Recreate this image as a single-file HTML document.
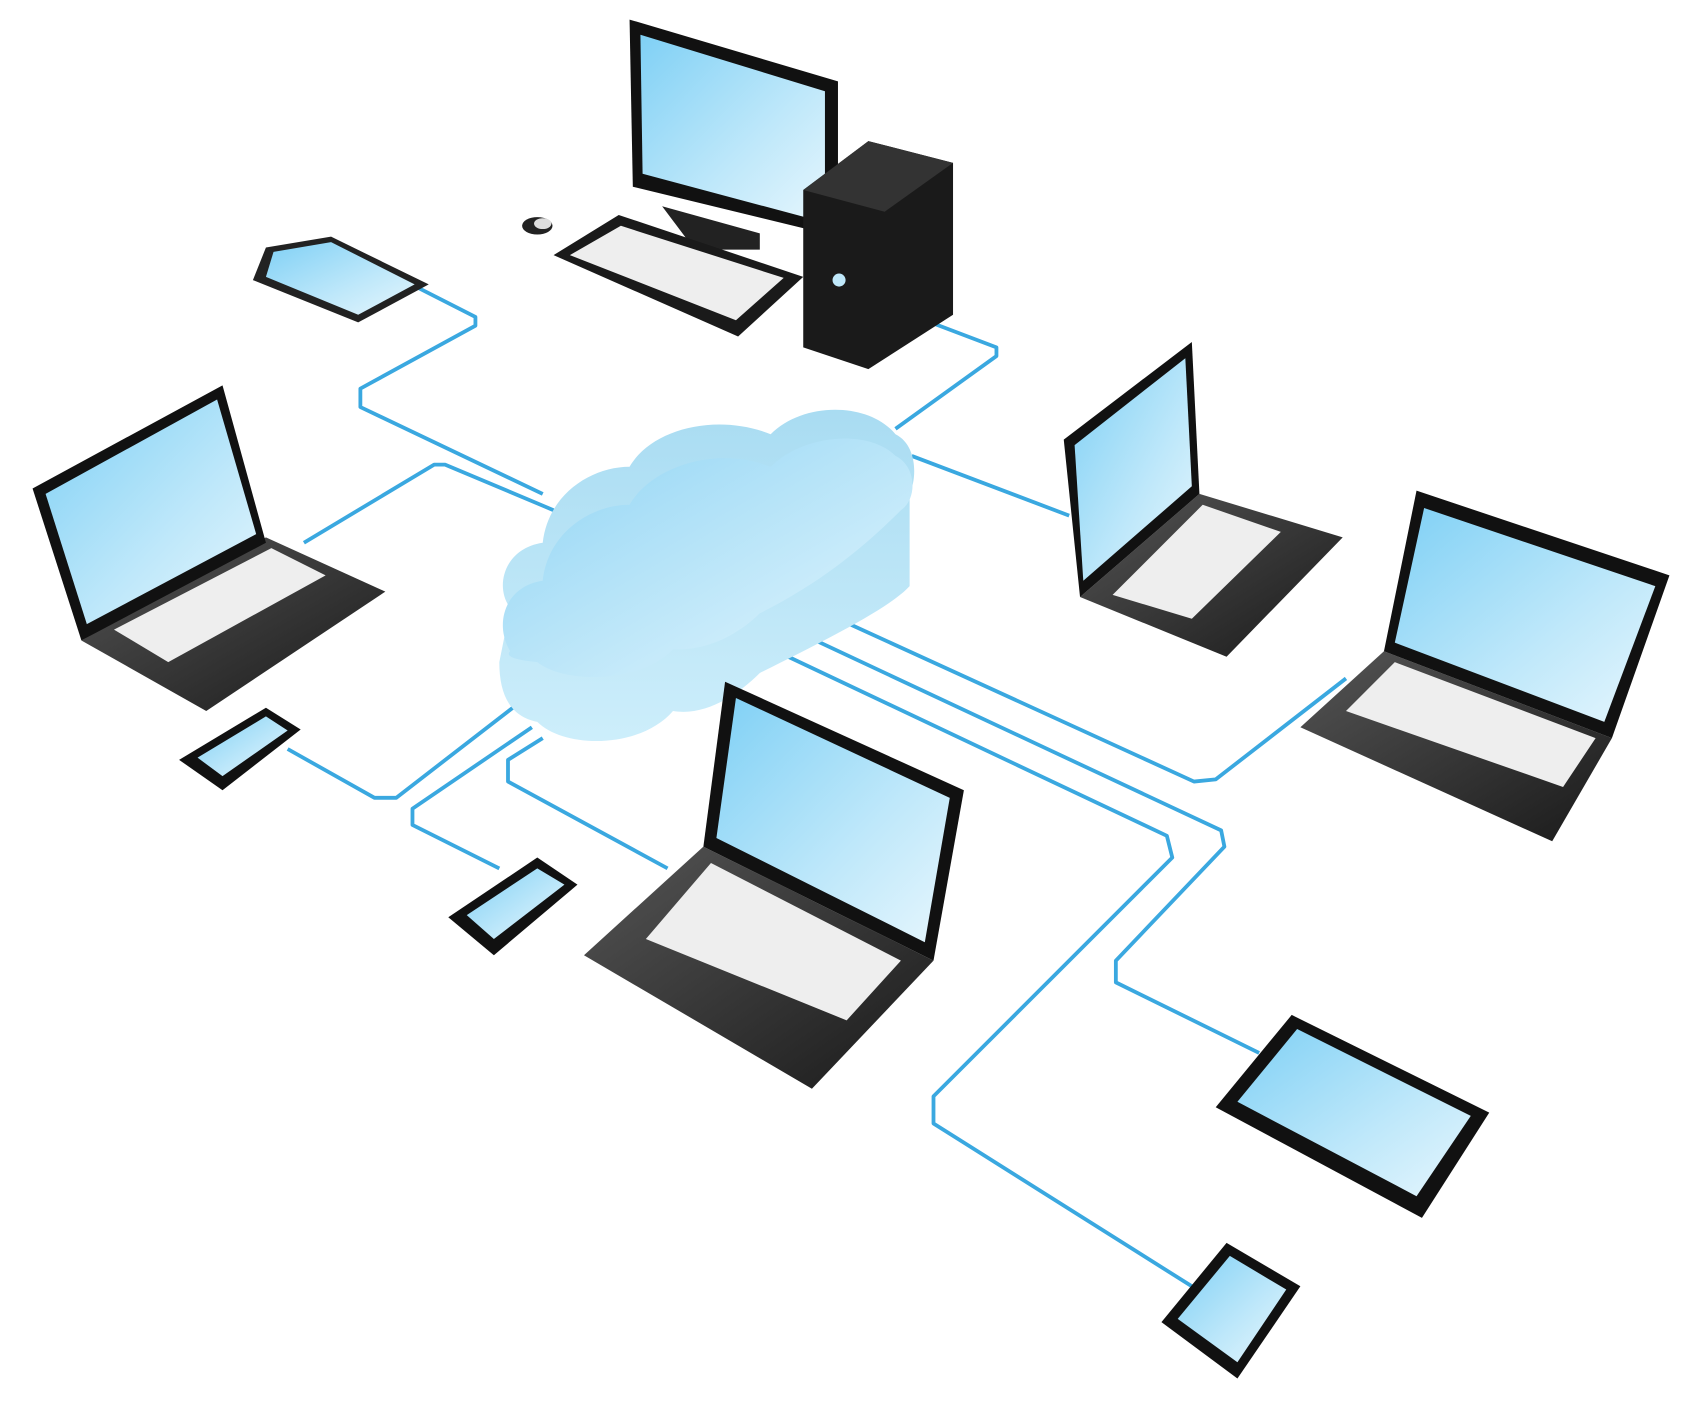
<!DOCTYPE html>
<html><head><meta charset="utf-8"><style>
html,body{margin:0;padding:0;background:#fff;}
svg{display:block;}
</style></head><body>
<svg width="1702" height="1422" viewBox="0 0 1568 1310" xmlns="http://www.w3.org/2000/svg">
<defs>
<linearGradient id="scr" x1="0" y1="0" x2="1" y2="1">
<stop offset="0" stop-color="#7fd0f5"/><stop offset="0.6" stop-color="#bfe8fa"/><stop offset="1" stop-color="#e6f6fd"/></linearGradient>
<linearGradient id="cl" x1="0" y1="0" x2="1" y2="1">
<stop offset="0" stop-color="#8fd4f4"/><stop offset="1" stop-color="#e4f6fd"/></linearGradient>
<linearGradient id="clside" x1="0" y1="0" x2="0" y2="1">
<stop offset="0" stop-color="#a9dcf2"/><stop offset="1" stop-color="#cdeefb"/></linearGradient>
<linearGradient id="base" x1="0" y1="0" x2="1" y2="1">
<stop offset="0" stop-color="#555"/><stop offset="1" stop-color="#1a1a1a"/></linearGradient>
</defs>
<g fill="none" stroke="#3aa8e0" stroke-width="3.5" stroke-linejoin="round">
<polyline points="385,265 438,292 438,300 332,358 332,375 500,455"/>
<polyline points="280,500 400,428 410,428 510,470"/>
<polyline points="265,690 345,735 365,735 475,650"/>
<polyline points="460,800 380,760 380,745 490,670"/>
<polyline points="615,800 468,720 468,700 500,680"/>
<polyline points="860,298 918,320 918,328 825,395"/>
<polyline points="840,420 985,475"/>
<polyline points="750,560 1100,720 1120,718 1240,625"/>
<polyline points="1160,970 1028,905 1028,885 1128,780 1125,765 730,580"/>
<polyline points="1098,1185 860,1035 860,1010 1080,790 1075,770 705,595"/>
</g>
<g>
<path d="M470,560 C455,540 465,505 500,500 C505,455 545,430 580,430 C600,395 660,380 710,400 C740,370 800,370 825,400 C845,410 845,440 838,455 L838,540 C820,560 760,590 700,620 C680,640 650,660 620,655 C590,690 520,690 495,665 C470,660 460,640 460,610 Z" fill="url(#clside)"/>
<path d="M470,600 C455,575 465,540 500,535 C505,490 545,465 580,465 C600,430 660,410 710,430 C740,400 800,395 825,420 C845,430 845,460 830,470 C800,500 760,535 700,565 C680,585 650,600 620,598 C590,630 520,630 495,610 C475,608 465,605 470,600 Z" fill="url(#cl)"/>
</g>
<polygon points="245,228 305,218 395,262 330,297 233,258" fill="#222"/>
<polygon points="252,232 305,223 382,262 330,290 245,255" fill="url(#scr)"/>
<polygon points="610,190 700,215 700,230 640,230" fill="#222"/>
<polygon points="580,18 772,75 772,218 583,172" fill="#111"/>
<polygon points="590,32 760,84 760,205 592,160" fill="url(#scr)"/>
<polygon points="510,235 570,198 740,255 680,310" fill="#1a1a1a"/>
<polygon points="525,235 572,208 722,256 678,295" fill="#eee"/>
<ellipse cx="495" cy="208" rx="14" ry="8" fill="#222"/>
<ellipse cx="500" cy="206" rx="8" ry="5" fill="#ddd"/>
<polygon points="740,175 800,130 878,150 878,290 800,340 740,320" fill="#1a1a1a"/>
<polygon points="740,175 800,130 878,150 815,195" fill="#333"/>
<circle cx="773" cy="258" r="6" fill="#bfe8fa"/>
<polygon points="75,590 245,495 355,545 190,655" fill="url(#base)"/>
<polygon points="105,580 250,505 300,530 155,610" fill="#eee"/>
<polygon points="30,450 205,355 245,500 75,590" fill="#111"/>
<polygon points="42,455 200,368 236,492 80,575" fill="url(#scr)"/>
<polygon points="995,550 1105,455 1237,495 1130,605" fill="url(#base)"/>
<polygon points="1025,548 1108,465 1180,490 1098,570" fill="#eee"/>
<polygon points="980,405 1098,315 1105,455 995,550" fill="#111"/>
<polygon points="990,410 1092,330 1098,448 998,535" fill="url(#scr)"/>
<polygon points="1198,670 1275,600 1485,680 1430,775" fill="url(#base)"/>
<polygon points="1240,655 1285,610 1470,680 1440,725" fill="#eee"/>
<polygon points="1305,452 1538,530 1485,680 1275,600" fill="#111"/>
<polygon points="1312,468 1525,540 1478,665 1285,592" fill="url(#scr)"/>
<polygon points="538,880 648,780 860,885 748,1003" fill="url(#base)"/>
<polygon points="595,865 655,795 830,885 780,940" fill="#eee"/>
<polygon points="668,628 888,728 860,885 648,780" fill="#111"/>
<polygon points="678,643 875,735 852,868 660,772" fill="url(#scr)"/>
<polygon points="165,700 245,652 277,672 205,728" fill="#111"/>
<polygon points="182,698 245,660 265,673 205,715" fill="url(#scr)"/>
<polygon points="413,845 495,790 532,815 455,880" fill="#111"/>
<polygon points="430,843 495,800 520,815 455,865" fill="url(#scr)"/>
<polygon points="1070,1218 1130,1145 1198,1185 1140,1270" fill="#111"/>
<polygon points="1085,1215 1133,1157 1185,1188 1140,1255" fill="url(#scr)"/>
<polygon points="1120,1020 1190,935 1372,1025 1310,1122" fill="#111"/>
<polygon points="1140,1015 1195,948 1355,1028 1305,1102" fill="url(#scr)"/>
</svg>
</body></html>
